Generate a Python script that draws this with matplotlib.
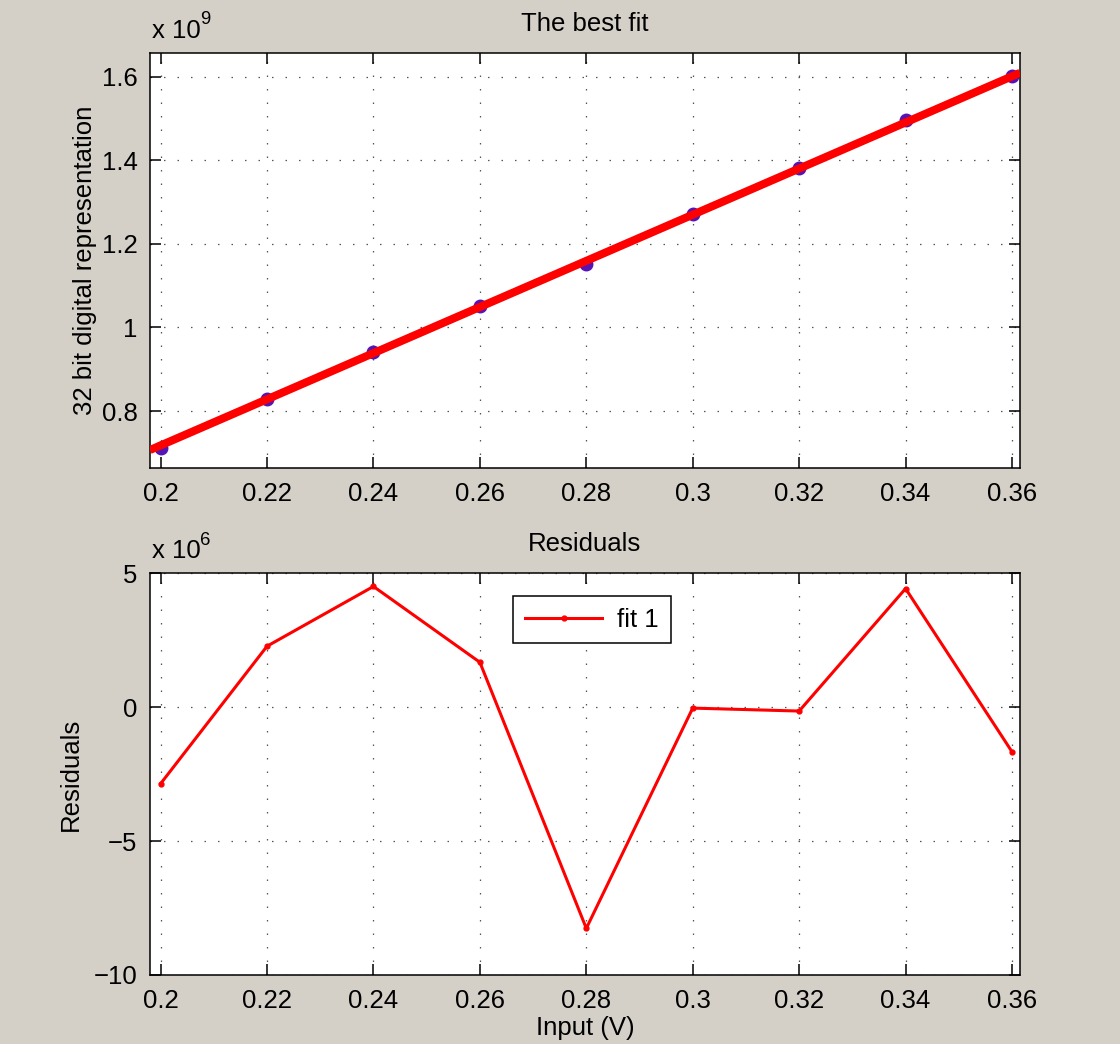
import matplotlib
matplotlib.use('Agg')
import matplotlib.pyplot as plt
from matplotlib.ticker import FuncFormatter

plt.rcParams['font.family'] = ['Liberation Sans', 'DejaVu Sans']
plt.rcParams['axes.unicode_minus'] = True

# --- data ---
input_v = [0.20, 0.22, 0.24, 0.26, 0.28, 0.30, 0.32, 0.34, 0.36]
counts = [0.711e9, 0.829e9, 0.941e9, 1.051e9, 1.152e9, 1.272e9, 1.382e9, 1.497e9, 1.602e9]
fit_x = [0.198, 0.3615]
fit_y = [0.7066e9, 1.6096e9]
residuals = [-2.86e6, 2.27e6, 4.50e6, 1.67e6, -8.26e6, -0.04e6, -0.15e6, 4.42e6, -1.67e6]

x_ticks = [0.2, 0.22, 0.24, 0.26, 0.28, 0.3, 0.32, 0.34, 0.36]
top_yticks = [0.8e9, 1.0e9, 1.2e9, 1.4e9, 1.6e9]
bot_yticks = [-10e6, -5e6, 0, 5e6]

bg = '#d4d0c8'
fs = 18.5

fig = plt.figure(figsize=(11.2, 10.44), dpi=100, facecolor=bg)
ax1 = fig.add_axes([0.1339, 0.5517, 0.7768, 0.3975])
ax2 = fig.add_axes([0.1339, 0.0661, 0.7768, 0.3850])


def style(ax):
    ax.set_xlim(0.198, 0.3615)
    ax.set_xticks(x_ticks)
    ax.xaxis.set_major_formatter(FuncFormatter(lambda v, p: f'{v:g}'))
    ax.tick_params(direction='in', length=8, width=1.1, top=True, right=True,
                   labelsize=fs, pad=9, colors='black')
    ax.tick_params(axis='x', pad=10)
    ax.grid(True, color='#555555', linestyle=(0, (1.2, 9.6)), linewidth=0.9)
    for s in ax.spines.values():
        s.set_linewidth(1.1)
        s.set_color('black')
    ax.set_axisbelow(True)


def scale_label(ax, exp):
    ax.text(0.002, 1.025, 'x 10', transform=ax.transAxes, fontsize=fs,
            ha='left', va='bottom')
    ax.text(0.0575, 1.06, exp, transform=ax.transAxes, fontsize=fs * 0.72,
            ha='left', va='bottom')


# top panel: data and best fit
style(ax1)
ax1.plot(input_v, counts, 'o', color='#5514b4', markersize=9, zorder=3)
ax1.plot(fit_x, fit_y, color='#ff0000', linewidth=5.8, solid_capstyle='butt', zorder=4)
ax1.set_ylim(0.6635e9, 1.657e9)
ax1.set_yticks(top_yticks)
ax1.yaxis.set_major_formatter(FuncFormatter(lambda v, p: f'{v / 1e9:g}'))
ax1.set_title('The best fit', fontsize=fs, pad=16)
ax1.set_ylabel('32 bit digital representation', fontsize=fs, labelpad=3)
scale_label(ax1, '9')

# bottom panel: residuals
style(ax2)
ax2.plot(input_v, residuals, '.-', color='#ff0000', linewidth=2.2, markersize=7,
         label='fit 1')
ax2.set_ylim(-10e6, 5e6)
ax2.set_yticks(bot_yticks)
ax2.yaxis.set_major_formatter(
    FuncFormatter(lambda v, p: f'{v / 1e6:g}'.replace('-', '\u2212')))
ax2.set_title('Residuals', fontsize=fs, pad=16)
ax2.set_ylabel('Residuals', fontsize=fs, labelpad=8)
ax2.set_xlabel('Input (V)', fontsize=fs, labelpad=2)
scale_label(ax2, '6')
leg = ax2.legend(loc='upper left', bbox_to_anchor=(0.403, 0.975), fontsize=fs,
                 fancybox=False, edgecolor='black', framealpha=1,
                 handlelength=3.0, borderpad=0.45, handletextpad=0.6)
leg.get_frame().set_linewidth(1.1)

fig.savefig('out.png', dpi=100, facecolor=bg)
